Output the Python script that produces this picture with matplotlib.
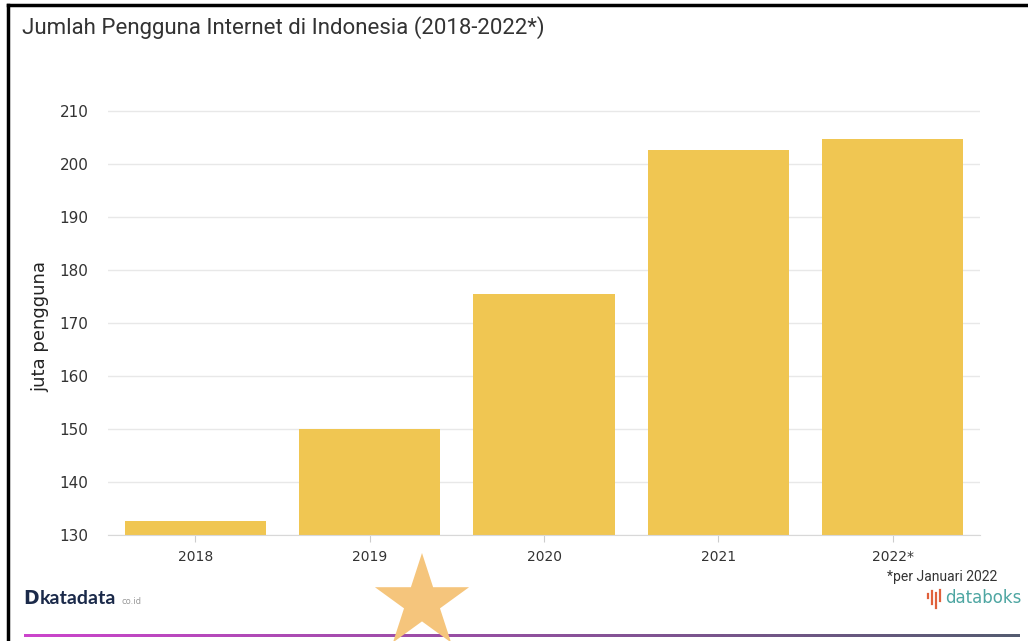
import numpy as np
import matplotlib
matplotlib.use("Agg")
import matplotlib.pyplot as plt
from matplotlib.patches import Polygon
from matplotlib.lines import Line2D

years = ["2018", "2019", "2020", "2021", "2022*"]
users = [132.7, 150.0, 175.4, 202.6, 204.7]
yticks = [130, 140, 150, 160, 170, 180, 190, 200, 210]

title = "Jumlah Pengguna Internet di Indonesia (2018-2022*)"
ylabel = "juta pengguna"
note = "*per Januari 2022"

W, H = 1028, 641
fig = plt.figure(figsize=(W / 100, H / 100), dpi=100)
fig.patch.set_facecolor("white")

def fx(px):
    return px / W

def fy(py):
    return 1 - py / H

ax = fig.add_axes([fx(108), fy(535), fx(980) - fx(108), fy(100) - fy(535)])
x = np.arange(len(years))
ax.bar(x, users, width=0.81, color="#f0c652", zorder=3)
ax.set_xlim(-0.5, len(years) - 0.5)
ax.set_ylim(130, 212)
ax.set_yticks(yticks)
ax.set_xticks(x)
ax.set_xticklabels(years)
ax.grid(axis="y", color="#e8e8e8", linewidth=1, zorder=0)
for s in ["top", "right", "left"]:
    ax.spines[s].set_visible(False)
ax.spines["bottom"].set_color("#d8d8d8")
ax.spines["bottom"].set_zorder(4)
ax.tick_params(axis="y", length=0, pad=14, labelsize=11, labelcolor="#333333")
ax.tick_params(axis="x", length=5, color="#cccccc", pad=6, labelsize=10, labelcolor="#333333")
for lbl in ax.get_yticklabels() + ax.get_xticklabels():
    lbl.set_family("DejaVu Sans")

fig.text(fx(40), fy(327), ylabel, rotation=90, ha="center", va="center",
         fontsize=13, color="#222222", family="DejaVu Sans")

fig.text(fx(22), fy(28), title, ha="left", va="center", fontsize=16,
         color="#333333", family="Roboto")

fig.text(fx(997), fy(577), note, ha="right", va="center", fontsize=10,
         color="#333333", family="Roboto")

# databoks logo
fig.text(fx(1021), fy(598), "databoks", ha="right", va="center", fontsize=12,
         color="#4ea6a2", family="DejaVu Sans")
for dx, y0, y1 in [(0, 594, 598), (4, 591, 604), (8, 593, 608), (12, 590, 601)]:
    fig.add_artist(Line2D([fx(928 + dx)] * 2, [fy(y0), fy(y1)], transform=fig.transFigure,
                          color="#e0603a", linewidth=1.6))

# katadata logo
fig.text(fx(23), fy(598), "D", ha="left", va="center", fontsize=13.5, fontweight="bold",
         color="#1b2a4a", family="DejaVu Sans")
fig.text(fx(40), fy(598), "katadata", ha="left", va="center", fontsize=14, fontweight="bold",
         color="#1b2a4a", family="Lato")
fig.text(fx(121), fy(601), "co.id", ha="left", va="center", fontsize=6,
         color="#999999", family="DejaVu Sans")

# frame
fig.add_artist(Line2D([fx(8), fx(1028)], [fy(5), fy(5)], transform=fig.transFigure,
                      color="black", linewidth=2.5))
fig.add_artist(Line2D([fx(8), fx(8)], [fy(5), fy(641)], transform=fig.transFigure,
                      color="black", linewidth=2.5))

# gradient bottom line
gax = fig.add_axes([fx(24), fy(636.5), fx(1020) - fx(24), 2.5 / H])
gax.set_axis_off()
c0 = np.array([0.80, 0.27, 0.80])
c1 = np.array([0.33, 0.36, 0.44])
t = np.linspace(0, 1, 256)[:, None]
grad = (c0 + (c1 - c0) * t)[None, :, :]
gax.imshow(grad, aspect="auto", extent=[0, 1, 0, 1])

# star decoration
cx, cy, R = 422, 602.5, 49.5
r = R * 0.382
pts = []
for k in range(10):
    ang = np.pi / 2 + k * np.pi / 5
    rad = R if k % 2 == 0 else r
    pts.append((fx(cx + rad * np.cos(ang)), fy(cy - rad * np.sin(ang))))
fig.add_artist(Polygon(pts, closed=True, transform=fig.transFigure,
                       facecolor="#f5c57c", edgecolor="none", zorder=10))

fig.savefig("out.png", dpi=100)
